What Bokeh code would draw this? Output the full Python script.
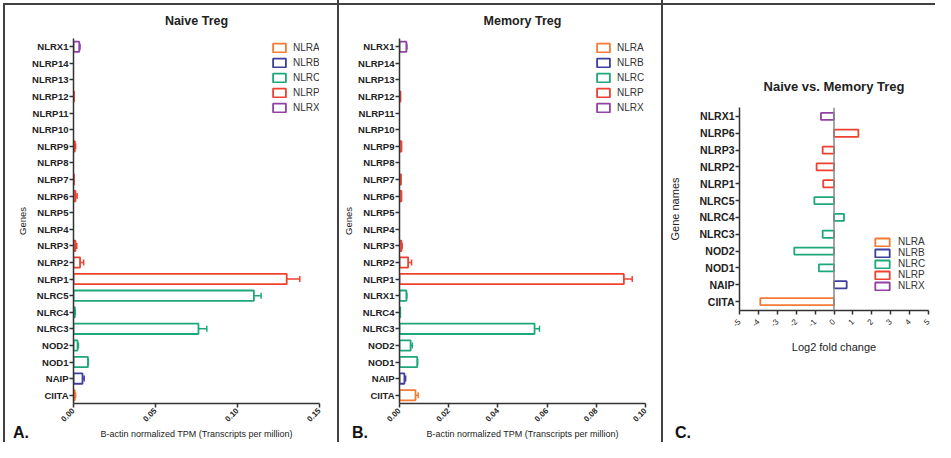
import math
from bokeh.plotting import figure
from bokeh.models import ColumnDataSource, FixedTicker, Whisker, TeeHead, Span, Div
from bokeh.embed import file_html
from bokeh.resources import INLINE

# ---------------- data ----------------
families = ["NLRA", "NLRB", "NLRC", "NLRP", "NLRX"]
family_colors = ["#f47a36", "#3d3f9f", "#1ea878", "#ef4130", "#9241a3"]

# Panel A / B genes (bottom -> top)
genes_a = ["CIITA", "NAIP", "NOD1", "NOD2", "NLRC3", "NLRC4", "NLRC5",
           "NLRP1", "NLRP2", "NLRP3", "NLRP4", "NLRP5", "NLRP6", "NLRP7",
           "NLRP8", "NLRP9", "NLRP10", "NLRP11", "NLRP12", "NLRP13", "NLRP14", "NLRX1"]
genes_b = ["CIITA", "NAIP", "NOD1", "NOD2", "NLRC3", "NLRC4", "NLRX1",
           "NLRP1", "NLRP2", "NLRP3", "NLRP4", "NLRP5", "NLRP6", "NLRP7",
           "NLRP8", "NLRP9", "NLRP10", "NLRP11", "NLRP12", "NLRP13", "NLRP14", "NLRX1"]
family_ab = ["NLRA", "NLRB", "NLRC", "NLRC", "NLRC", "NLRC", "NLRC",
             "NLRP", "NLRP", "NLRP", "NLRP", "NLRP", "NLRP", "NLRP",
             "NLRP", "NLRP", "NLRP", "NLRP", "NLRP", "NLRP", "NLRP", "NLRX"]

naive_tpm = [0.0008, 0.0055, 0.0088, 0.0025, 0.0762, 0.0008, 0.1100,
             0.1300, 0.0040, 0.0012, 0.0, 0.0, 0.0012, 0.0003,
             0.0, 0.0008, 0.0, 0.0, 0.0003, 0.0, 0.0, 0.0035]
naive_err = [0.0005, 0.0010, 0.0003, 0.0005, 0.0051, 0.0003, 0.0044,
             0.0080, 0.0022, 0.0008, 0.0, 0.0, 0.0010, 0.0,
             0.0, 0.0005, 0.0, 0.0, 0.0, 0.0, 0.0, 0.0005]

memory_tpm = [0.0065, 0.0020, 0.0072, 0.0045, 0.0549, 0.0003, 0.0028,
              0.0912, 0.0035, 0.0008, 0.0, 0.0, 0.0008, 0.0006,
              0.0, 0.0008, 0.0, 0.0, 0.0004, 0.0, 0.0, 0.0028]
memory_err = [0.0011, 0.0005, 0.0002, 0.0007, 0.0020, 0.0, 0.0002,
              0.0034, 0.0014, 0.0003, 0.0, 0.0, 0.0, 0.0,
              0.0, 0.0, 0.0, 0.0, 0.0, 0.0, 0.0, 0.0002]

# Panel C (bottom -> top)
genes_c = ["CIITA", "NAIP", "NOD1", "NOD2", "NLRC3", "NLRC4", "NLRC5",
           "NLRP1", "NLRP2", "NLRP3", "NLRP6", "NLRX1"]
family_c = ["NLRA", "NLRB", "NLRC", "NLRC", "NLRC", "NLRC", "NLRC",
            "NLRP", "NLRP", "NLRP", "NLRP", "NLRX"]
log2_fc = [-3.9, 0.67, -0.8, -2.1, -0.6, 0.53, -1.04,
           -0.57, -0.92, -0.6, 1.29, -0.69]

xticks_a = [0.0, 0.05, 0.10, 0.15]
xlabels_a = ["0.00", "0.05", "0.10", "0.15"]
xticks_b = [0.0, 0.02, 0.04, 0.06, 0.08, 0.10]
xlabels_b = ["0.00", "0.02", "0.04", "0.06", "0.08", "0.10"]
xticks_c = [-5, -4, -3, -2, -1, 0, 1, 2, 3, 4, 5]
xlabels_c = ["-5", "-4", "-3", "-2", "-1", "0", "1", "2", "3", "4", "5"]
panel_letters = ["A.", "B.", "C."]

FONT = "Liberation Sans"
TXT = "#222222"
AX = "#333333"
LINE = "#404040"
STYLE_FIRST = {"float": "left",
               "box-shadow": f"inset 3px 3px 0 0 #ffffff, inset 5px 5px 0 0 {LINE}"}
STYLE_NEXT = {"float": "left",
              "box-shadow": f"inset 2px 0 0 0 {LINE}, inset 0 3px 0 0 #ffffff, inset 0 5px 0 0 {LINE}"}

H = 442
WIDTHS = [337, 324, 274]


def style_axes(p, ylab_size, xlab_size):
    for ax in (p.xaxis[0], p.yaxis[0]):
        ax.axis_line_color = AX
        ax.axis_line_width = 1.5
        ax.major_tick_line_color = AX
        ax.major_tick_line_width = 1.5
        ax.major_tick_in = 0
        ax.minor_tick_in = 0
        ax.minor_tick_out = 0
        ax.major_label_text_font = FONT
        ax.major_label_text_font_style = "bold"
        ax.major_label_text_color = TXT
        ax.axis_label_text_font = FONT
        ax.axis_label_text_font_style = "normal"
        ax.axis_label_text_color = TXT
    p.yaxis.major_label_text_font_size = ylab_size
    p.xaxis.major_label_text_font_size = xlab_size
    p.xgrid.visible = False
    p.ygrid.visible = False
    p.outline_line_color = None


def tpm_panel(title, genes, fams, vals, errs, xmax, xticks, xlabels,
              width, mb_left, mb_right, legend_x, style):
    n = len(genes)
    top, bottom = 38, 36
    p = figure(width=width, height=H, x_range=(0, xmax), y_range=(-0.5, n - 0.5),
               output_backend="svg", toolbar_location=None,
               min_border_left=mb_left, min_border_right=mb_right,
               min_border_top=top, min_border_bottom=bottom,
               border_fill_color=None, background_fill_color=None,
               styles=style)
    p.title.text = title
    p.title.align = "center"
    p.title.text_font = FONT
    p.title.text_font_size = "12.5px"
    p.title.text_color = TXT
    p.title.standoff = 21

    for f, col in zip(families, family_colors):
        idx = [i for i in range(n) if fams[i] == f and vals[i] > 0]
        src = ColumnDataSource(dict(y=idx, v=[vals[i] for i in idx]))
        p.hbar(y="y", left=0, right="v", height=0.62, source=src,
               fill_color="white", line_color=col, line_width=1.8, legend_label=f)
        eidx = [i for i in idx if errs[i] > 0]
        if eidx:
            esrc = ColumnDataSource(dict(y=eidx, lo=[vals[i] for i in eidx],
                                         up=[vals[i] + errs[i] for i in eidx]))
            p.add_layout(Whisker(source=esrc, base="y", lower="lo", upper="up",
                                 dimension="width", line_color=col, line_width=1.5,
                                 lower_head=None,
                                 upper_head=TeeHead(size=6, line_color=col, line_width=1.5)))

    style_axes(p, "9.5px", "8px")
    p.yaxis.ticker = FixedTicker(ticks=list(range(n)))
    p.yaxis.major_label_overrides = {i: g for i, g in enumerate(genes)}
    p.yaxis.major_tick_out = 4
    p.yaxis.major_label_standoff = 1
    p.yaxis.axis_label = "Genes"
    p.yaxis.axis_label_text_font_size = "9.5px"
    p.yaxis.axis_label_standoff = 1
    p.xaxis.ticker = FixedTicker(ticks=xticks)
    p.xaxis.major_label_overrides = dict(zip(xticks, xlabels))
    p.xaxis.major_label_orientation = math.pi / 4
    p.xaxis.major_tick_out = 4
    p.xaxis.major_label_standoff = 2
    p.xaxis.axis_label = "B-actin normalized TPM (Transcripts per million)"
    p.xaxis.axis_label_text_font_size = "9px"
    p.xaxis.axis_label_standoff = 2

    lg = p.legend[0]
    lg.location = (legend_x, 290)
    lg.padding = 0
    lg.margin = 0
    lg.border_line_color = None
    lg.background_fill_alpha = 0
    lg.glyph_width = 16
    lg.glyph_height = 11
    lg.label_height = 11
    lg.spacing = 4
    lg.label_standoff = 6
    lg.label_text_font = FONT
    lg.label_text_font_size = "10px"
    lg.label_text_color = "#333333"
    return p


pA = tpm_panel("Naive Treg", genes_a, family_ab, naive_tpm, naive_err, 0.15,
               xticks_a, xlabels_a, WIDTHS[0], 73, 18, 198, STYLE_FIRST)
pB = tpm_panel("Memory Treg", genes_b, family_ab, memory_tpm, memory_err, 0.10,
               xticks_b, xlabels_b, WIDTHS[1], 62, 16, 196, STYLE_NEXT)

# ---------------- panel C ----------------
nC = len(genes_c)
pC = figure(width=WIDTHS[2], height=H, x_range=(-5, 5), y_range=(-0.53, nC - 0.47),
            output_backend="svg", toolbar_location=None,
            min_border_left=78, min_border_right=7, min_border_top=107,
            min_border_bottom=132,
            border_fill_color=None, background_fill_color=None,
            styles=STYLE_NEXT)
pC.title.text = "Naive vs. Memory Treg"
pC.title.align = "center"
pC.title.text_font = FONT
pC.title.text_font_size = "13px"
pC.title.text_color = TXT
pC.title.standoff = 27

pC.add_layout(Span(location=0, dimension="height", line_color="#888888", line_width=1.5))
for f, col in zip(families, family_colors):
    idx = [i for i in range(nC) if family_c[i] == f]
    src = ColumnDataSource(dict(y=idx, v=[log2_fc[i] for i in idx]))
    pC.hbar(y="y", left=0, right="v", height=0.42, source=src,
            fill_color="white", line_color=col, line_width=1.8, legend_label=f)

style_axes(pC, "10.5px", "8px")
pC.yaxis.ticker = FixedTicker(ticks=list(range(nC)))
pC.yaxis.major_label_overrides = {i: g for i, g in enumerate(genes_c)}
pC.yaxis.major_tick_out = 4
pC.yaxis.major_label_standoff = 1
pC.yaxis.axis_label = "Gene names"
pC.yaxis.axis_label_text_font_size = "11px"
pC.yaxis.axis_label_standoff = 15
pC.xaxis.ticker = FixedTicker(ticks=xticks_c)
pC.xaxis.major_label_overrides = dict(zip(xticks_c, xlabels_c))
pC.xaxis.major_label_orientation = math.pi / 4
pC.xaxis.major_tick_out = 4
pC.xaxis.major_label_standoff = 6
pC.xaxis.major_label_text_font_style = "normal"
pC.xaxis.axis_label = "Log2 fold change"
pC.xaxis.axis_label_text_font_size = "11px"
pC.xaxis.axis_label_standoff = 9

lgC = pC.legend[0]
lgC.location = (134, 19)
lgC.padding = 0
lgC.margin = 0
lgC.border_line_color = None
lgC.background_fill_alpha = 0
lgC.glyph_width = 18
lgC.glyph_height = 10
lgC.label_height = 10
lgC.spacing = 0
lgC.label_standoff = 7
lgC.label_text_font = FONT
lgC.label_text_font_size = "10px"
lgC.label_text_color = "#333333"

# ---------------- panel letters (A., B., C.) in one strip under the panels ----------------
letter_left = [13, 352, 675]
spans = "".join(
    f'<span style="position:absolute;left:{x}px;top:0">{t}</span>'
    for t, x in zip(panel_letters, letter_left))
letters = Div(
    text=(f'<div style="position:relative;width:900px;height:18px;'
          f"font-family:'{FONT}';font-weight:bold;font-size:16px;"
          f'line-height:18px;color:#111111">{spans}</div>'),
    width=900, height=18, margin=0,
    styles={"float": "left", "margin": "-18px 0 0 0", "padding": "0"})

open("out.html", "w").write(file_html([pA, pB, pC, letters], INLINE))
